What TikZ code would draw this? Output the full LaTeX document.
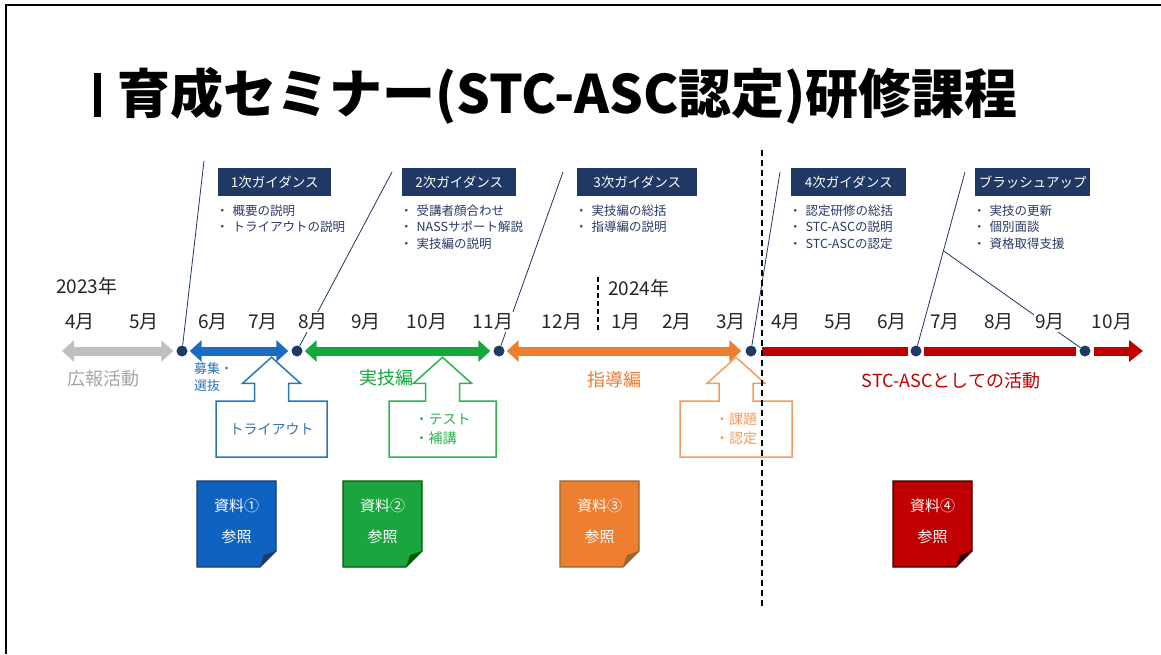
\documentclass[tikz,border=0pt]{standalone}
\usepackage{fontspec}
\setmainfont{Noto Sans CJK JP}
\usetikzlibrary{arrows.meta,calc,shapes.arrows}
\definecolor{navy}{HTML}{1F3864}
\definecolor{btext}{HTML}{2B3A67}
\definecolor{tlgray}{HTML}{BFBFBF}
\definecolor{lgray}{HTML}{A5A5A5}
\definecolor{tlblue}{HTML}{1A6DC2}
\definecolor{cblue}{HTML}{2E75B6}
\definecolor{tlgreen}{HTML}{14A83B}
\definecolor{cgreen}{HTML}{2DB34E}
\definecolor{tlorange}{HTML}{ED7D31}
\definecolor{corange}{HTML}{F29D5E}
\definecolor{tlred}{HTML}{C00000}
\definecolor{dblue}{HTML}{0F63C0}
\definecolor{dgreen}{HTML}{1AA53F}
\definecolor{dorange}{HTML}{EF7F30}
\definecolor{dred}{HTML}{C00000}
\tikzset{
 gbox/.style={fill=navy, text=white, font=\fontsize{13.5}{15}\selectfont, minimum height=28pt, inner sep=0pt, anchor=north west},
 blist/.style={text=btext, font=\fontsize{12.5}{16.5}\selectfont, align=left, anchor=north west, inner sep=0pt},
 mon/.style={fill=white, text=black!85, font=\fontsize{19}{21}\selectfont, inner sep=1.5pt},
 yr/.style={text=black!85, font=\fontsize{19}{21}\selectfont, anchor=west, inner sep=0pt},
 dot/.style={circle, fill=navy, minimum size=11pt, inner sep=0pt},
 conn/.style={navy, line width=0.8pt},
 tl/.style={line width=9pt},
 dbl/.style={arrows={Triangle[width=21pt,length=12pt]-Triangle[width=21pt,length=12pt]}},
 lbl/.style={font=\fontsize{18}{20}\selectfont},
 co/.style={draw, fill=white, line width=1.5pt, shape=arrow box, arrow box arrows={north:43pt}, arrow box shaft width=34pt, arrow box head extend=12pt, arrow box tip angle=96, minimum height=56pt, inner sep=0pt, font=\fontsize{14}{19}\selectfont, align=left},
 doctext/.style={text=white, font=\fontsize{15}{31}\selectfont, align=center, inner sep=0pt},
}
\newcommand\docicon[6]{%
 \fill[#4, draw=#5, line width=1.2pt] (#2,#3) -- (#2+79,#3) -- (#2+79,#3+70) -- (#2+63,#3+86) -- (#2,#3+86) -- cycle;
 \fill[#5] (#2+79,#3+70) -- (#2+63,#3+86) -- (#2+67,#3+74) -- cycle;
 \node[doctext] (#1) at (#2+39.5,#3+40) {#6};
}
\begin{document}
\begin{tikzpicture}[x=1pt,y=-1pt]
\useasboundingbox (0,0) rectangle (1161,654);
\fill[white] (0,0) rectangle (1161,654);
\draw[line width=2.5pt] (6,654) -- (6,5) -- (1161,5);
% title
\node[fill=black, minimum width=7pt, minimum height=44pt, inner sep=0pt] (bar) at (97.5,95) {};
\node[anchor=base west, font=\fontsize{53}{60}\selectfont\bfseries, inner sep=0pt] (title) at (117,113) {育成セミナー(STC-ASC認定)研修課程};
% guidance boxes
\node[gbox, minimum width=113pt] (g1) at (218,168) {1次ガイダンス};
\node[gbox, minimum width=114pt] (g2) at (402,168) {2次ガイダンス};
\node[gbox, minimum width=120pt] (g3) at (577,168) {3次ガイダンス};
\node[gbox, minimum width=115pt] (g4) at (791,168) {4次ガイダンス};
\node[gbox, minimum width=115pt] (g5) at (975,168) {ブラッシュアップ};
\node[blist] (b1) at ($(g1.south west)+(-2,8)$) {・\hspace{4pt}概要の説明\\・\hspace{4pt}トライアウトの説明};
\node[blist] (b2) at ($(g2.south west)+(-2,8)$) {・\hspace{4pt}受講者顔合わせ\\・\hspace{4pt}NASSサポート解説\\・\hspace{4pt}実技編の説明};
\node[blist] (b3) at ($(g3.south west)+(-2,8)$) {・\hspace{4pt}実技編の総括\\・\hspace{4pt}指導編の説明};
\node[blist] (b4) at ($(g4.south west)+(-2,8)$) {・\hspace{4pt}認定研修の総括\\・\hspace{4pt}STC-ASCの説明\\・\hspace{4pt}STC-ASCの認定};
\node[blist] (b5) at ($(g5.south west)+(-2,8)$) {・\hspace{4pt}実技の更新\\・\hspace{4pt}個別面談\\・\hspace{4pt}資格取得支援};
% years
\node[yr] (y23) at (56,286) {2023年};
\node[yr] (y24) at (608,288) {2024年};
% dots
\node[dot] (d1) at (182,351) {};
\node[dot] (d2) at (297,351) {};
\node[dot] (d3) at (499,351) {};
\node[dot] (d4) at (751,351) {};
\node[dot] (d5) at (916,351) {};
\node[dot] (d6) at (1085,351) {};
% connectors
\coordinate (t1) at (204,161);
\coordinate (t2) at (392,172);
\coordinate (t3) at (563,172);
\coordinate (t4) at (780,172);
\coordinate (t5) at (965,172);
\coordinate (j6) at ($(d5.center)!0.56!(t5)$);
\draw[conn] (d1) -- (t1);
\draw[conn] (d2) -- (t2);
\draw[conn] (d3) -- (t3);
\draw[conn] (d4) -- (t4);
\draw[conn] (d5) -- (t5);
\draw[conn] (d6) -- (j6);
% months
\node[mon] (m1) at (80,322) {4月};
\node[mon] (m2) at (144,322) {5月};
\node[mon] (m3) at (213,322) {6月};
\node[mon] (m4) at (263,322) {7月};
\node[mon] (m5) at (313,322) {8月};
\node[mon] (m6) at (366,322) {9月};
\node[mon] (m7) at (427,322) {10月};
\node[mon] (m8) at (493,322) {11月};
\node[mon] (m9) at (562,322) {12月};
\node[mon] (m10) at (626,322) {1月};
\node[mon] (m11) at (677,322) {2月};
\node[mon] (m12) at (731,322) {3月};
\node[mon] (m13) at (786,322) {4月};
\node[mon] (m14) at (839,322) {5月};
\node[mon] (m15) at (892,322) {6月};
\node[mon] (m16) at (945,322) {7月};
\node[mon] (m17) at (999,322) {8月};
\node[mon] (m18) at (1050,322) {9月};
\node[mon] (m19) at (1112,322) {10月};
\coordinate (sd1) at (598,277);
\coordinate (sd2) at (598,331);
\draw[line width=2pt, dash pattern=on 5pt off 3pt] (sd1) -- (sd2);
% timeline
\coordinate (gs) at (62,351);
\coordinate (rend) at (1143,351);
\draw[tl, tlgray, dbl, shorten >=3pt] (gs) -- (d1);
\draw[tl, tlblue, dbl, shorten <=2pt, shorten >=3pt] (d1) -- (d2);
\draw[tl, tlgreen, dbl, shorten <=2pt, shorten >=3pt] (d2) -- (d3);
\draw[tl, tlorange, dbl, shorten <=2pt, shorten >=4pt] (d3) -- (d4);
\draw[tl, tlred, shorten <=5pt, shorten >=2.5pt] (d4) -- (d5);
\draw[tl, tlred, shorten <=2.5pt, shorten >=3pt] (d5) -- (d6);
\draw[tl, tlred, -{Triangle[width=21pt,length=14pt]}, shorten <=3pt] (d6) -- (rend);
% labels under timeline
\node[lbl, text=lgray] (l1) at (103,379) {広報活動};
\node[font=\fontsize{13}{17}\selectfont, text=cblue, align=left, anchor=north west, inner sep=0pt] (l2) at (194,362) {募集・\\選抜};
\node[lbl, text=tlgreen] (l3) at (386,378) {実技編};
\node[lbl, text=tlorange] (l4) at (614,380) {指導編};
\node[lbl, text=tlred] (l5) at (951,381) {STC-ASCとしての活動};
% callouts
\node[co, draw=cblue, text=cblue, minimum width=111pt] (c1) at (271.5,429) {トライアウト};
\node[co, draw=cgreen, text=cgreen, minimum width=107pt] (c2) at (442.5,429) {・テスト\\・補講};
\node[co, draw=corange, text=corange, minimum width=112pt] (c3) at (736,429) {・課題\\・認定};
% documents
\docicon{doc1}{197}{481}{dblue}{navy}{資料①\\参照}
\docicon{doc2}{343}{481}{dgreen}{green!35!black}{資料②\\参照}
\docicon{doc3}{560}{481}{dorange}{brown!80!black}{資料③\\参照}
\docicon{doc4}{893}{481}{dred}{black!80!red}{資料④\\参照}
% dashed divider
\coordinate (dv1) at (762,150);
\coordinate (dv2) at (762,606);
\draw[line width=2pt, dash pattern=on 6pt off 4pt] (dv1) -- (dv2);
\end{tikzpicture}
\end{document}
